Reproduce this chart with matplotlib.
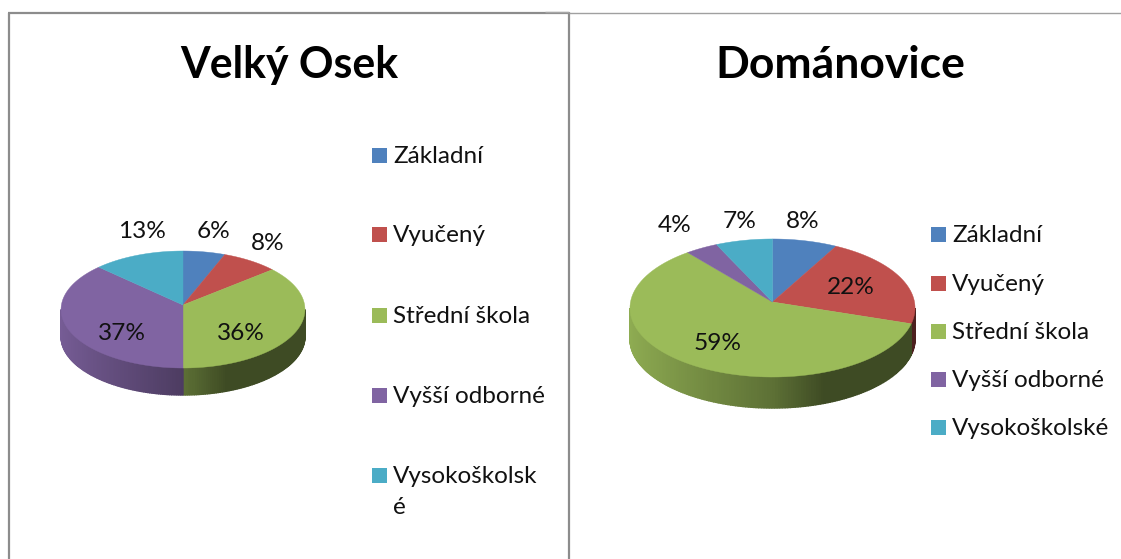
import numpy as np
import matplotlib
matplotlib.use('Agg')
import matplotlib.pyplot as plt
from matplotlib.patches import Rectangle

categories = ['Základní', 'Vyučený', 'Střední škola', 'Vyšší odborné', 'Vysokoškolské']
colors = ['#4F81BD', '#C0504D', '#9BBB59', '#8064A2', '#4BACC6']

title_left = 'Velký Osek'
values_left = [6, 8, 36, 37, 13]
title_right = 'Dománovice'
values_right = [8, 22, 59, 4, 7]

plt.rcParams['font.family'] = ['Lato', 'DejaVu Sans']

LEGEND_SIZE = 17.5
LABEL_SIZE = 17.6

fig = plt.figure(figsize=(11.21, 5.59), dpi=100)
ax = fig.add_axes([0, 0, 1, 1])
# axes in pixels of the picture, y going down
ax.set_xlim(0, 1121)
ax.set_ylim(559, 0)
ax.axis('off')


def shade(color, s):
    # side of the pie gets darker towards the right
    k = np.interp(s, [-1, 0, 0.33, 1], [0.92, 0.6, 0.4, 0.4])
    return tuple(c * k for c in matplotlib.colors.to_rgb(color))


def draw_pie(values, apex, rx, ry, k, depth):
    # k is the perspective, the back of the pie is a bit squeezed
    def project(th):
        w = 1 + k * np.cos(th)
        return apex[0] + rx * np.sin(th) / w, apex[1] - ry * np.cos(th) / w

    edges = np.cumsum([0] + values) / sum(values) * 2 * np.pi
    # side wall, only the front shows
    front = np.arccos(-k)
    for i, col in enumerate(colors):
        a = max(edges[i], front)
        b = min(edges[i + 1], 2 * np.pi - front)
        if b <= a:
            continue
        th = np.linspace(a, b, max(int((b - a) * 60), 2))
        for t1, t2 in zip(th[:-1], th[1:]):
            x1, y1 = project(t1)
            x2, y2 = project(t2)
            c = shade(col, np.sin((t1 + t2) / 2))
            ax.fill([x1, x2, x2, x1], [y1, y2, y2 + depth, y1 + depth],
                    color=c, lw=1.0)
    # top surface
    for i, col in enumerate(colors):
        x, y = project(np.linspace(edges[i], edges[i + 1], 80))
        ax.fill(np.r_[apex[0], x], np.r_[apex[1], y], color=col, lw=0.3)


def draw_legend(names, sq_x, text_x, ys):
    for name, col, y in zip(names, colors, ys):
        ax.add_patch(Rectangle((sq_x, y - 7.5), 15, 15, color=col, lw=0))
        ax.text(text_x, y + 1.2, name, fontsize=LEGEND_SIZE, color='#111111',
                ha='left', va='center')


# frame
ax.plot([9, 9], [559, 13], color='#8c8c8c', lw=1.6, solid_capstyle='butt')
ax.plot([8, 569], [13, 13], color='#8c8c8c', lw=1.6, solid_capstyle='butt')
ax.plot([569, 569], [12, 559], color='#8c8c8c', lw=1.6, solid_capstyle='butt')
ax.plot([545, 569], [12, 12], color='#a6a6a6', lw=1.0, solid_capstyle='butt')
ax.plot([569, 1121], [13, 13], color='#a0a0a0', lw=1.0, solid_capstyle='butt')

# left chart
ax.text(289, 65, title_left, fontsize=30.8, fontweight='bold', ha='center', va='center', color='black')
draw_pie(values_left, (183, 305), 121.6, 58.15, 0.077, 27)
pos_left = [(213, 231), (268, 244), (241, 334), (122, 334), (142, 231)]
for v, (x, y) in zip(values_left, pos_left):
    ax.text(x, y, f'{v}%', fontsize=LABEL_SIZE, ha='center', va='center', color='#111111')
names_left = categories[:4] + ['Vysokoškolsk']
draw_legend(names_left, 372, 393, [155, 234, 315, 395, 475])
ax.text(393, 508, 'é', fontsize=LEGEND_SIZE, ha='left', va='center', color='#111111')

# right chart
ax.text(840, 65, title_right, fontsize=32, fontweight='bold', ha='center', va='center', color='black')
draw_pie(values_right, (772.5, 302), 142, 68.5, 0.087, 31)
pos_right = [(803, 221), (851, 287), (718, 343), (675, 225), (740, 221)]
for v, (x, y) in zip(values_right, pos_right):
    ax.text(x, y, f'{v}%', fontsize=LABEL_SIZE, ha='center', va='center', color='#111111')
draw_legend(categories, 931, 952, [234, 283, 331, 379, 427])

fig.savefig('out.png', dpi=100)
